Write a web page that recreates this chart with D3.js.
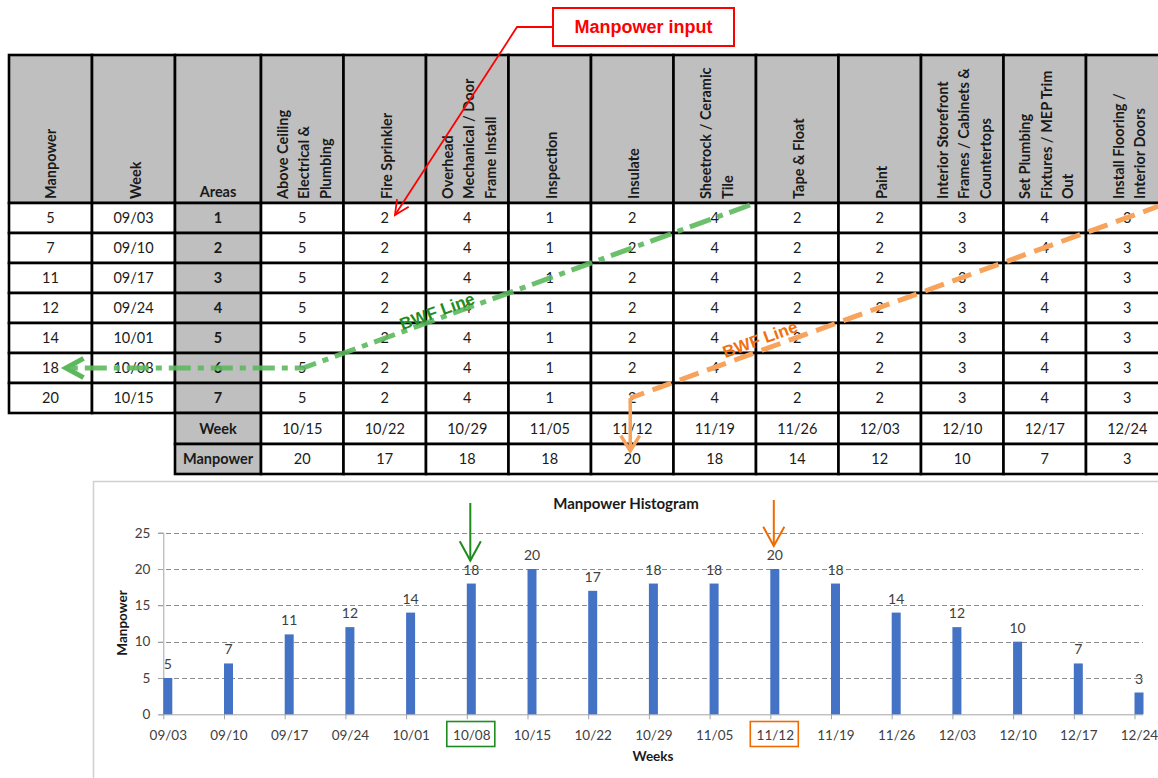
<!DOCTYPE html>
<html>
<head>
<meta charset="utf-8">
<script src="https://cdn.jsdelivr.net/npm/d3@7"></script>
<style>
  html, body { margin: 0; padding: 0; background: #fff; }
  svg { display: block; font-family: Lato, "Open Sans", sans-serif; }
</style>
</head>
<body>
<svg id="chart" width="1158" height="778"></svg>
<script>
// ---- Schedule table data ----
const activities = [
  ["Above Ceiling", "Electrical &", "Plumbing"],
  ["Fire Sprinkler"],
  ["Overhead", "Mechanical / Door", "Frame Install"],
  ["Inspection"],
  ["Insulate"],
  ["Sheetrock / Ceramic", "Tile"],
  ["Tape & Float"],
  ["Paint"],
  ["Interior Storefront", "Frames / Cabinets &", "Countertops"],
  ["Set Plumbing", "Fixtures / MEP Trim", "Out"],
  ["Install Flooring /", "Interior Doors"]
];
const crewPerActivity = [5, 2, 4, 1, 2, 4, 2, 2, 3, 4, 3];
const areas = [1, 2, 3, 4, 5, 6, 7];
const startWeeks = ["09/03", "09/10", "09/17", "09/24", "10/01", "10/08", "10/15"];
const startManpower = [5, 7, 11, 12, 14, 18, 20];
const laterWeeks = ["10/15", "10/22", "10/29", "11/05", "11/12", "11/19", "11/26", "12/03", "12/10", "12/17", "12/24"];
const laterManpower = [20, 17, 18, 18, 20, 18, 14, 12, 10, 7, 3];

// ---- Histogram data ----
const histWeeks = ["09/03", "09/10", "09/17", "09/24", "10/01", "10/08", "10/15", "10/22", "10/29",
                   "11/05", "11/12", "11/19", "11/26", "12/03", "12/10", "12/17", "12/24"];
const histManpower = [5, 7, 11, 12, 14, 18, 20, 17, 18, 18, 20, 18, 14, 12, 10, 7, 3];
const yTicks = [0, 5, 10, 15, 20, 25];

const svg = d3.select("#chart");
const GRAY = "#bfbfbf";
const INK = "#1a1a1a";

// ================= TABLE =================
const colMan = [9, 92], colWeek = [92, 175], colArea = [175, 261];
const actX = d3.scaleBand().domain(d3.range(activities.length)).range([261, 1168.5]);
const headTop = 55, headBottom = 203;
const rowY = d3.scaleBand().domain(areas).range([headBottom, 413]);
const weekRow = [413, 444], manRow = [444, 474];

const table = svg.append("g").attr("class", "table");

function cell(x0, x1, y0, y1, fill) {
  table.append("rect")
    .attr("x", x0).attr("y", y0).attr("width", x1 - x0).attr("height", y1 - y0)
    .attr("fill", fill).attr("stroke", "#000").attr("stroke-width", 2.6);
}
function cellText(x, y, txt, bold) {
  table.append("text").attr("x", x).attr("y", y).attr("dy", "0.36em")
    .attr("text-anchor", "middle").attr("font-size", 14.5)
    .attr("font-weight", bold ? "bold" : "normal").attr("fill", INK).text(txt);
}

// header cells
cell(colMan[0], colMan[1], headTop, headBottom, GRAY);
cell(colWeek[0], colWeek[1], headTop, headBottom, GRAY);
cell(colArea[0], colArea[1], headTop, headBottom, GRAY);
activities.forEach((a, i) => cell(actX(i), actX(i) + actX.bandwidth(), headTop, headBottom, GRAY));

function rotatedHeader(cx, lines) {
  const step = 21.5;
  lines.forEach((ln, k) => {
    const x = cx + (k - (lines.length - 1) / 2) * step;
    table.append("text")
      .attr("transform", `translate(${x},${headBottom - 4}) rotate(-90)`)
      .attr("dy", "0.36em").attr("font-size", 14.5).attr("font-weight", "bold")
      .attr("fill", INK).text(ln);
  });
}
rotatedHeader((colMan[0] + colMan[1]) / 2, ["Manpower"]);
rotatedHeader((colWeek[0] + colWeek[1]) / 2 + 2, ["Week"]);
table.append("text").attr("x", (colArea[0] + colArea[1]) / 2).attr("y", 197)
  .attr("text-anchor", "middle").attr("font-size", 14.5).attr("font-weight", "bold")
  .attr("fill", INK).text("Areas");
activities.forEach((a, i) => rotatedHeader(actX(i) + actX.bandwidth() / 2 + 2, a));

// body rows
areas.forEach((ar, r) => {
  const y0 = rowY(ar), y1 = y0 + rowY.bandwidth(), cy = (y0 + y1) / 2;
  cell(colMan[0], colMan[1], y0, y1, "#fff");
  cellText((colMan[0] + colMan[1]) / 2, cy, startManpower[r]);
  cell(colWeek[0], colWeek[1], y0, y1, "#fff");
  cellText((colWeek[0] + colWeek[1]) / 2, cy, startWeeks[r]);
  cell(colArea[0], colArea[1], y0, y1, GRAY);
  cellText((colArea[0] + colArea[1]) / 2, cy, ar, true);
  crewPerActivity.forEach((v, i) => {
    cell(actX(i), actX(i) + actX.bandwidth(), y0, y1, "#fff");
    cellText(actX(i) + actX.bandwidth() / 2, cy, v);
  });
});

// summary rows: week and manpower
[[weekRow, "Week", laterWeeks], [manRow, "Manpower", laterManpower]].forEach(([rr, label, vals]) => {
  const cy = (rr[0] + rr[1]) / 2;
  cell(colArea[0], colArea[1], rr[0], rr[1], GRAY);
  cellText((colArea[0] + colArea[1]) / 2, cy, label, true);
  vals.forEach((v, i) => {
    cell(actX(i), actX(i) + actX.bandwidth(), rr[0], rr[1], "#fff");
    cellText(actX(i) + actX.bandwidth() / 2, cy, v);
  });
});

// ================= ANNOTATIONS ON TABLE =================
const notes = svg.append("g").attr("class", "notes");

function openHead(g, tip, from, len, spread, color, width) {
  const ang = Math.atan2(tip[1] - from[1], tip[0] - from[0]);
  const a1 = ang + Math.PI - spread, a2 = ang + Math.PI + spread;
  const p1 = [tip[0] + len * Math.cos(a1), tip[1] + len * Math.sin(a1)];
  const p2 = [tip[0] + len * Math.cos(a2), tip[1] + len * Math.sin(a2)];
  g.append("path").attr("d", d3.line()([p1, tip, p2]))
    .attr("fill", "none").attr("stroke", color).attr("stroke-width", width)
    .attr("stroke-linejoin", "miter");
}

// "Manpower input" callout
notes.append("rect").attr("x", 553).attr("y", 8).attr("width", 181).attr("height", 38)
  .attr("fill", "#fff").attr("stroke", "#ff0000").attr("stroke-width", 2);
notes.append("text").attr("x", 643.5).attr("y", 27).attr("dy", "0.36em")
  .attr("text-anchor", "middle").attr("font-family", "Liberation Sans, Arial, sans-serif")
  .attr("font-size", 18).attr("font-weight", "bold").attr("fill", "#ff0000").text("Manpower input");
const redPts = [[553, 27], [517, 27], [395, 215]];
notes.append("path").attr("d", d3.line()(redPts)).attr("fill", "none")
  .attr("stroke", "#ff0000").attr("stroke-width", 1.8);
openHead(notes, redPts[2], redPts[1], 16, 0.45, "#ff0000", 1.8);

// green BWF line (row 6 feeds the 10/08 manpower)
const gy = rowY(6) + rowY.bandwidth() / 2;
const greenPts = [[750, 205], [303, gy], [66, gy]];
notes.append("path").attr("d", d3.line()(greenPts)).attr("fill", "none")
  .attr("stroke", "#5cb85c").attr("stroke-opacity", 0.9).attr("stroke-width", 5)
  .attr("stroke-dasharray", "22,7,6,7");
openHead(notes, greenPts[2], [100, gy], 20, 0.5, "#5cb85c", 5);
notes.append("text").attr("transform", "translate(437,311) rotate(-20)")
  .attr("text-anchor", "middle").attr("dy", "0.36em")
  .attr("font-family", "Liberation Sans, Arial, sans-serif")
  .attr("font-size", 17).attr("font-weight", "bold").attr("fill", "#1e8c1e").text("BWF Line");

// orange BWF line (row 7 feeds the 11/12 manpower)
const oy = rowY(7) + rowY.bandwidth() / 2;
const ox = actX(4) + actX.bandwidth() / 2 - 2;
const orangePts = [[1162, 205], [ox, oy], [ox, 451]];
notes.append("path").attr("d", d3.line()(orangePts.slice(0, 2))).attr("fill", "none")
  .attr("stroke", "#f7a35c").attr("stroke-width", 5).attr("stroke-dasharray", "20,9");
notes.append("path").attr("d", d3.line()(orangePts.slice(1))).attr("fill", "none")
  .attr("stroke", "#f7a35c").attr("stroke-width", 3.5);
openHead(notes, orangePts[2], [ox, 400], 18, 0.55, "#f7a35c", 3.5);
notes.append("text").attr("transform", "translate(760,339) rotate(-20)")
  .attr("text-anchor", "middle").attr("dy", "0.36em")
  .attr("font-family", "Liberation Sans, Arial, sans-serif")
  .attr("font-size", 17).attr("font-weight", "bold").attr("fill", "#f07010").text("BWF Line");

// ================= HISTOGRAM =================
const hist = svg.append("g").attr("class", "histogram");
hist.append("rect").attr("x", 93.5).attr("y", 481.5).attr("width", 1100).attr("height", 400)
  .attr("fill", "#fff").attr("stroke", "#d0d0d0").attr("stroke-width", 1.5);

const x = d3.scalePoint().domain(histWeeks).range([163.3, 1134.5]);
const y = d3.scaleLinear().domain([0, 25]).range([714.3, 532.7]);
const barW = 9;
const plotRight = 1143;

// gridlines
hist.append("g").selectAll("line").data(yTicks.filter(t => t > 0)).join("line")
  .attr("x1", 158).attr("x2", plotRight)
  .attr("y1", d => Math.round(y(d)) + 0.5).attr("y2", d => Math.round(y(d)) + 0.5)
  .attr("stroke", "#8c8c8c").attr("stroke-width", 1).attr("stroke-dasharray", "5,3");

// y axis
const yAxis = hist.append("g").attr("transform", "translate(163.3,0)")
  .call(d3.axisLeft(y).tickValues(yTicks).tickSize(5).tickPadding(8));
yAxis.select(".domain").attr("stroke", "#a6a6a6");
yAxis.selectAll(".tick line").attr("stroke", "#a6a6a6");
yAxis.selectAll(".tick text").attr("font-size", 13.5).attr("fill", "#404040")
  .attr("font-family", "Lato, sans-serif");

// x axis: tick marks at the category start, labels centred under the bars
const xAxis = hist.append("g").attr("transform", `translate(0,${y(0)})`)
  .call(d3.axisBottom(x).tickSize(5).tickPadding(11));
xAxis.select(".domain").attr("d", `M163.3,0.5H${plotRight}`).attr("stroke", "#a6a6a6");
xAxis.selectAll(".tick line").attr("stroke", "#a6a6a6");
xAxis.selectAll(".tick text").attr("x", barW / 2).attr("font-size", 13.5)
  .attr("fill", "#404040").attr("font-family", "Lato, sans-serif");

// bars
hist.append("g").selectAll("rect").data(histWeeks).join("rect")
  .attr("x", d => x(d)).attr("width", barW)
  .attr("y", (d, i) => y(histManpower[i]))
  .attr("height", (d, i) => y(0) - y(histManpower[i]))
  .attr("fill", "#4472c4");

// value labels
hist.append("g").selectAll("text").data(histWeeks).join("text")
  .attr("x", d => x(d) + barW / 2)
  .attr("y", (d, i) => y(histManpower[i]) - 9)
  .attr("text-anchor", "middle").attr("font-size", 14).attr("fill", "#404040")
  .text((d, i) => histManpower[i]);

// titles
hist.append("text").attr("x", 626).attr("y", 509).attr("text-anchor", "middle")
  .attr("font-size", 15).attr("font-weight", "bold").attr("fill", "#1a1a1a").text("Manpower Histogram");
hist.append("text").attr("transform", "translate(122,623) rotate(-90)").attr("dy", "0.36em")
  .attr("text-anchor", "middle").attr("font-size", 13.5).attr("font-weight", "bold")
  .attr("fill", "#1a1a1a").text("Manpower");
hist.append("text").attr("x", 653).attr("y", 761).attr("text-anchor", "middle")
  .attr("font-size", 13.5).attr("font-weight", "bold").attr("fill", "#1a1a1a").text("Weeks");

// highlighted weeks: arrow above the value label and a box round the week label
const highlights = [["10/08", "#1e8c1e", 503], ["11/12", "#f06a00", 500]];
highlights.forEach(([wk, color, top]) => {
  const cx = x(wk) + barW / 2 - 1;
  const i = histWeeks.indexOf(wk);
  const tipY = y(histManpower[i]) - 23;
  hist.append("line").attr("x1", cx).attr("x2", cx).attr("y1", top).attr("y2", tipY)
    .attr("stroke", color).attr("stroke-width", 2);
  openHead(hist, [cx, tipY], [cx, top], 22, 0.5, color, 2);
  hist.append("rect").attr("x", cx - 23.5).attr("y", 721.5).attr("width", 48).attr("height", 25)
    .attr("fill", "none").attr("stroke", color).attr("stroke-width", 1.6);
});
</script>
</body>
</html>
